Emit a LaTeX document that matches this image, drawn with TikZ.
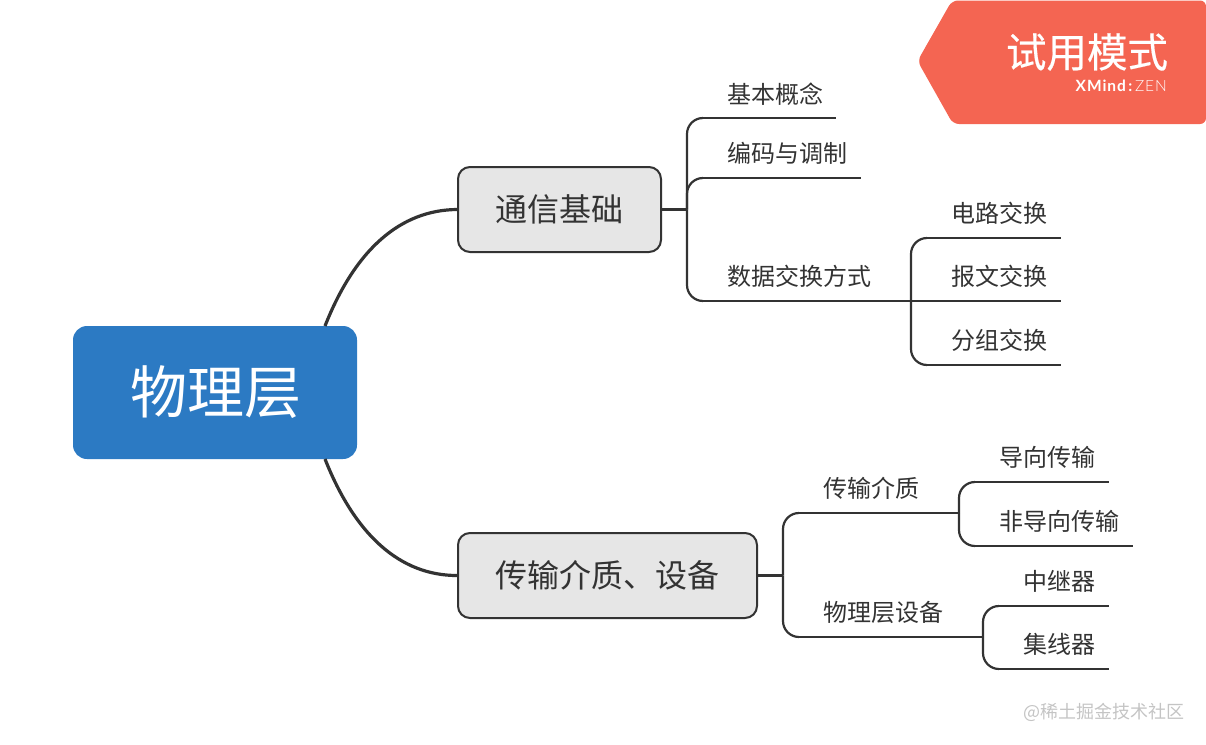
\documentclass[tikz,border=0pt]{standalone}
\usepackage{fontspec}
\setmainfont{Noto Sans CJK SC}
\newfontfamily\badgecjk[FakeBold=0.35]{Noto Sans CJK SC}
\newfontfamily\latinbadge[LetterSpace=6]{Lato}
\newfontfamily\latinlight[LetterSpace=6]{Lato Light}
\definecolor{inkc}{HTML}{333333}
\definecolor{rootc}{HTML}{2C7AC3}
\definecolor{mainc}{HTML}{E6E6E6}
\definecolor{badgec}{HTML}{F46552}
\definecolor{markc}{HTML}{C4C4C4}
\newcommand{\fsz}[1]{\fontsize{#1}{#1}\selectfont}
\tikzset{
  rootbox/.style={rectangle,rounded corners=14pt,fill=rootc,text=white,inner sep=0pt,
    minimum width=284pt,minimum height=133pt,font=\fsz{57}},
  mainbox/.style={rectangle,rounded corners=12pt,fill=mainc,draw=inkc,line width=2pt,text=inkc,inner sep=0pt,
    minimum height=85pt,font=\fsz{32}},
  subbox/.style={rectangle,anchor=south west,text=inkc,inner ysep=0pt,inner xsep=0pt,
    minimum height=50pt,align=left,font=\fsz{24},text depth=0pt},
  link/.style={draw=inkc,line width=2.2pt,rounded corners=16pt},
  rule/.style={draw=inkc,line width=2.2pt},
  trunk/.style={draw=inkc,line width=3.2pt}
}
\begin{document}
\begin{tikzpicture}[x=1pt,y=-1pt]
\useasboundingbox (0,0) rectangle (1206,744);
% nodes
\node[rootbox] (root) at (215,392.5) {\hspace*{1pt}物理层};
\node[mainbox,minimum width=203pt] (m1) at (559.5,209.5) {\hspace*{-1pt}通信基础};
\node[mainbox,minimum width=299pt] (m2) at (607.5,575.5) {\hspace*{-1pt}传输介质、设备};
% leaves: each box runs from the elbow to the end of its rule
\node[subbox,minimum width=133pt,text width=133pt] (a1) at (703,118) {\hspace*{24pt}基本概念};
\node[subbox,minimum width=158pt,text width=158pt] (a2) at (703,178) {\hspace*{24pt}编码与调制};
\node[subbox,minimum width=208pt,text width=208pt] (a3) at (703,301) {\hspace*{24pt}数据交换方式};
\node[subbox,minimum width=134pt,text width=134pt] (b1) at (927,238) {\hspace*{24pt}电路交换};
\node[subbox,minimum width=134pt,text width=134pt] (b2) at (927,301) {\hspace*{24pt}报文交换};
\node[subbox,minimum width=134pt,text width=134pt] (b3) at (927,365) {\hspace*{24pt}分组交换};
\node[subbox,minimum width=160pt,text width=160pt] (c1) at (799,513) {\hspace*{24pt}传输介质};
\node[subbox,minimum width=184pt,text width=184pt] (c2) at (799,637) {\hspace*{24pt}物理层设备};
\node[subbox,minimum width=134pt,text width=134pt] (d1) at (975,482) {\hspace*{24pt}导向传输};
\node[subbox,minimum width=158pt,text width=158pt] (d2) at (975,546) {\hspace*{24pt}非导向传输};
\node[subbox,minimum width=110pt,text width=110pt] (e1) at (999,606) {\hspace*{24pt}中继器};
\node[subbox,minimum width=110pt,text width=110pt] (e2) at (999,669) {\hspace*{24pt}集线器};
% trunks
\coordinate (r1) at (325,326);
\coordinate (r2) at (325,459);
\draw[trunk] (r1) .. controls (355,250) and (400,210) .. (m1.west);
\draw[trunk] (r2) .. controls (355,535) and (400,575.5) .. (m2.west);
% first-level branches
\coordinate (j1) at (687,209.5);
\coordinate (j2) at (783,575.5);
\coordinate (j3) at (911,301);
\coordinate (j4) at (959,513);
\coordinate (j5) at (983,637);
\draw[rule] (m1.east) -- (j1);
\draw[rule] (m2.east) -- (j2);
\draw[link] (j1) |- (a1.south west);
\draw[link] (j1) |- (a2.south west);
\draw[link] (j1) |- (a3.south west);
\draw[link] (j2) |- (c1.south west);
\draw[link] (j2) |- (c2.south west);
\draw[link] (j3) |- (b1.south west);
\draw[link] (j3) |- (b3.south west);
\draw[rule] (j3) -- (b2.south west);
\draw[link] (j4) |- (d1.south west);
\draw[link] (j4) |- (d2.south west);
\draw[link] (j5) |- (e1.south west);
\draw[link] (j5) |- (e2.south west);
% rules
\foreach \n in {a1,a2,a3,b1,b2,b3,c1,c2,d1,d2,e1,e2}
  \draw[rule] (\n.south west) -- (\n.south east);
% badge
\fill[badgec,rounded corners=6pt] (1206,0.5) -- (952,0.5) -- (917.5,61) -- (953,124) -- (1206,124) -- cycle;
\node[text=white,anchor=center,font=\fsz{40.5}\badgecjk,inner sep=0pt] (bt) at (1087,52) {试用模式};
\node[text=white,anchor=east,inner sep=0pt] (bx) at (1167,86) {{\latinbadge\bfseries\fsz{15.5}XMind}{\latinbadge\bfseries\fsz{15.5}\,:}{\latinlight\fsz{15.5}\,ZEN}};
% watermark
\node[text=markc,anchor=east,inner sep=0pt,font=\fsz{18}] (wm) at (1185,712) {@稀土掘金技术社区};
\end{tikzpicture}
\end{document}
